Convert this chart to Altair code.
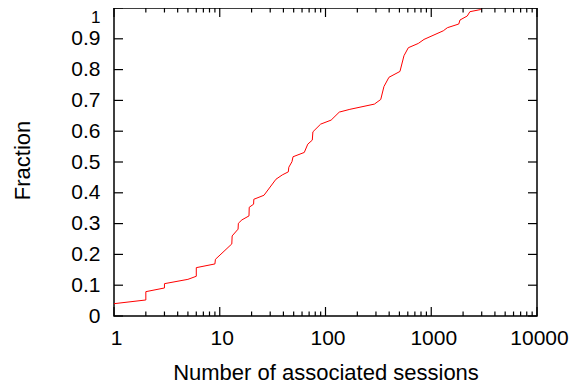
import altair as alt
import pandas as pd

# CDF data
sessions = [1, 2, 2, 3, 3, 5, 6, 6, 9, 9.1, 13, 13.1, 14.9, 15, 16.2, 18.9, 19, 20.9, 21,
            26.2, 34, 39, 44.5, 45, 48.2, 49.3, 63, 68, 75, 76, 90, 113, 135, 170, 290,
            333, 357, 398, 506, 552, 607, 755, 854, 1300, 1420, 1820, 1870, 2190, 2320,
            2930, 3000]
fraction = [0.04, 0.052, 0.079, 0.091, 0.105, 0.119, 0.129, 0.157, 0.169, 0.184, 0.234,
            0.26, 0.282, 0.301, 0.312, 0.325, 0.353, 0.363, 0.379, 0.392, 0.444, 0.458,
            0.468, 0.483, 0.501, 0.517, 0.531, 0.558, 0.571, 0.598, 0.623, 0.636, 0.662,
            0.671, 0.688, 0.703, 0.745, 0.775, 0.794, 0.845, 0.871, 0.885, 0.898, 0.926,
            0.936, 0.948, 0.961, 0.974, 0.988, 0.995, 1.0]

x_major_ticks = [1, 10, 100, 1000, 10000]
x_minor_ticks = [m * d for d in [1, 10, 100, 1000] for m in range(2, 10)]
y_ticks = [0, 0.1, 0.2, 0.3, 0.4, 0.5, 0.6, 0.7, 0.8, 0.9, 1]

W, H = 423, 308
FONT = "Liberation Sans"

df = pd.DataFrame({"sessions": sessions, "fraction": fraction, "idx": range(len(sessions))})
xmaj = pd.DataFrame({"sessions": x_major_ticks})
xmin = pd.DataFrame({"sessions": x_minor_ticks})
yt = pd.DataFrame({"fraction": y_ticks})

xscale = alt.Scale(type="log", domain=[1, 10000])
yscale = alt.Scale(domain=[0, 1])

xaxis = alt.Axis(values=x_major_ticks, format="d", title="Number of associated sessions",
                 ticks=False, domain=False, grid=False, labelPadding=11,
                 labelOffset=2, labelFontSize=21, titleFontSize=22,
                 titleY=63, titleBaseline="alphabetic", labelFlush=False,
                 labelOverlap=False)
yaxis = alt.Axis(values=y_ticks, format="~g", title="Fraction",
                 ticks=False, domain=False, grid=False, labelPadding=14,
                 labelFontSize={"condition": {"test": "datum.value == 1", "value": 17}, "value": 21},
                 titleFontSize=22, labelFlush=False,
                 labelOverlap=False,
                 labelOffset={"condition": {"test": "datum.value == 1", "value": 9.5}, "value": 0},
                 titleX=-92, titleY=152, titleAngle=-90, titleAlign="center",
                 titleBaseline="middle")

line = alt.Chart(df).mark_line(color="#ff0000", strokeWidth=1).encode(
    x=alt.X("sessions:Q", scale=xscale, axis=xaxis, title="Number of associated sessions"),
    y=alt.Y("fraction:Q", scale=yscale, axis=yaxis, title="Fraction"),
    order="idx:Q",
)

MAJ, MIN = 9, 4.5

def xticks(data, y, y2):
    return alt.Chart(data).mark_rule(color="black", strokeWidth=1.2).encode(
        x=alt.X("sessions:Q", scale=xscale, axis=xaxis, title="Number of associated sessions"),
        y=alt.value(y), y2=alt.value(y2))

def yticks(x, x2):
    return alt.Chart(yt).mark_rule(color="black", strokeWidth=1.2).encode(
        y=alt.Y("fraction:Q", scale=yscale, axis=yaxis, title="Fraction"),
        x=alt.value(x), x2=alt.value(x2))

layers = [
    line,
    xticks(xmaj, H, H - MAJ), xticks(xmin, H, H - MIN),
    xticks(xmaj, 0, MAJ), xticks(xmin, 0, MIN),
    yticks(0, MAJ), yticks(W - MAJ, W),
]

chart = alt.layer(*layers).properties(
    width=W, height=H,
    autosize=alt.AutoSizeParams(type="none"),
    padding={"left": 106, "top": 0, "right": 40, "bottom": 70},
).configure_view(stroke="black", strokeWidth=1.5).configure_axis(
    labelFont=FONT, titleFont=FONT, labelColor="black", titleColor="black",
    titleFontWeight="normal",
)

chart.save("out.html", embed_options={"renderer": "svg", "actions": False})
